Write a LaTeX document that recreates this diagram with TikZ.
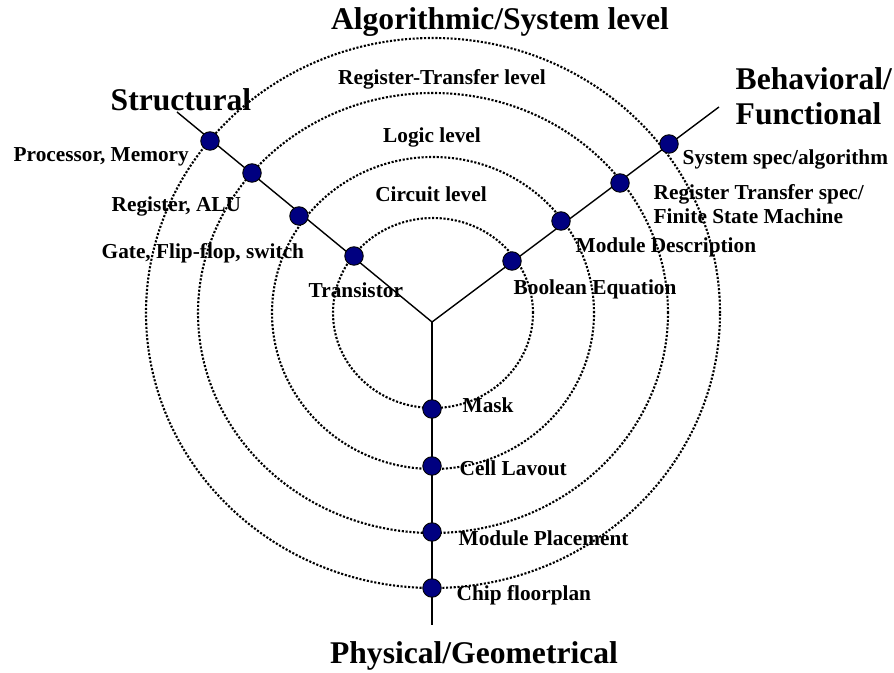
\documentclass[tikz,border=0pt]{standalone}
\usepackage{fontspec}
\setmainfont{Liberation Serif}
\usepackage{tikz}

\definecolor{dotblue}{RGB}{0,0,128}

\begin{document}
\begin{tikzpicture}[x=1pt,y=1pt,line width=1.4pt,
  level/.style={line width=2.1pt,dash pattern=on 2.1pt off 1.7pt},
  pt/.style={circle,draw=black,line width=0.9pt,fill=dotblue,minimum size=18.5pt,inner sep=0pt},
  lbl/.style={inner sep=0pt,anchor=base west,font=\fontsize{21.3}{24}\selectfont\bfseries},
  ttl/.style={inner sep=0pt,font=\fontsize{31.6}{35}\selectfont\bfseries}]
  \useasboundingbox (0,0) rectangle (894,672);
  % the three axes
  \coordinate (c) at (432,350);
  \coordinate (str) at (177,560);
  \coordinate (beh) at (719,565);
  \coordinate (phy) at (432,47);
  \draw (c) -- (str);
  \draw (c) -- (beh);
  \draw (c) -- (phy);
  % abstraction levels
  \coordinate (o) at (433,359);
  \draw[level] (o) ellipse [x radius=100pt,y radius=95pt];
  \draw[level] (o) ellipse [x radius=161pt,y radius=156pt];
  \draw[level] (o) ellipse [x radius=235pt,y radius=220pt];
  \draw[level] (o) ellipse [x radius=287pt,y radius=275pt];
  % points on the axes
  \node[pt] (s1) at (354,416) {};
  \node[pt] (s2) at (299,456) {};
  \node[pt] (s3) at (252,499) {};
  \node[pt] (s4) at (210,531) {};
  \node[pt] (b1) at (512,411) {};
  \node[pt] (b2) at (561,451) {};
  \node[pt] (b3) at (620,489) {};
  \node[pt] (b4) at (669,528) {};
  \node[pt] (p1) at (432,263) {};
  \node[pt] (p2) at (432,206) {};
  \node[pt] (p3) at (432,140) {};
  \node[pt] (p4) at (432,84) {};
  % titles
  \node[ttl,anchor=base] (alg) at (500,642) {Algorithmic/System level};
  \node[ttl,anchor=base west] (struct) at (110,561) {Structural};
  \node[ttl,anchor=base west] (behav) at (735,582) {Behavioral/};
  \node[ttl,anchor=base west] (func) at (735,547) {Functional};
  \node[ttl,anchor=base] (phys) at (474,9) {Physical/Geometrical};
  % level names
  \node[lbl,anchor=base] (rtl) at (442,587) {Register-Transfer level};
  \node[lbl,anchor=base] (logic) at (432,529) {Logic level};
  \node[lbl,anchor=base] (circ) at (431,470) {Circuit level};
  % structural
  \node[lbl] (proc) at (13,510) {Processor, Memory};
  \node[lbl] (reg) at (111,460) {Register, ALU};
  \node[lbl] (gate) at (101,413) {Gate, Flip-flop, switch};
  \node[lbl] (trans) at (308,374) {Transistor};
  % behavioral
  \node[lbl] (sysspec) at (682,507) {System spec/algorithm};
  \node[lbl] (rtspec) at (653,472) {Register Transfer spec/};
  \node[lbl] (fsm) at (653,448) {Finite State Machine};
  \node[lbl] (moddesc) at (575,419) {Module Description};
  \node[lbl] (bool) at (513,377) {Boolean Equation};
  % physical
  \node[lbl] (mask) at (462,259) {Mask};
  \node[lbl] (cell) at (459,196) {Cell Lavout};
  \node[lbl] (place) at (458,126) {Module Placement};
  \node[lbl] (floor) at (456,71) {Chip floorplan};
\end{tikzpicture}
\end{document}
